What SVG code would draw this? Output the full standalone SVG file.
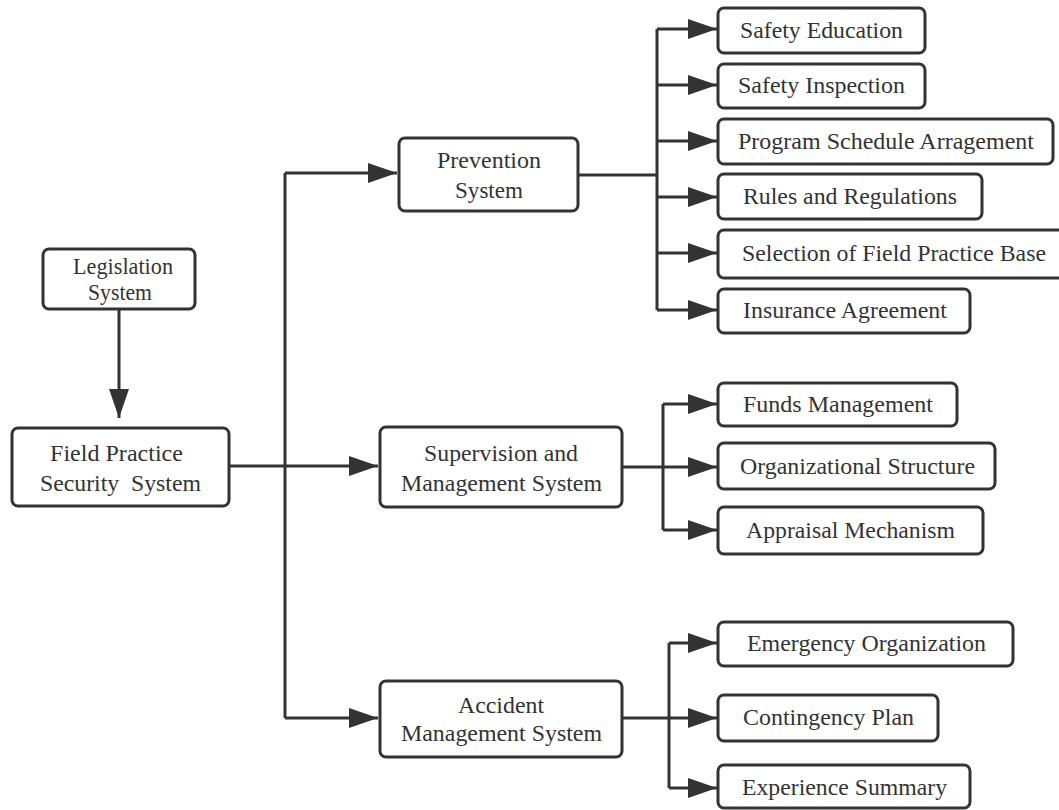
<svg xmlns="http://www.w3.org/2000/svg" width="1059" height="810" viewBox="0 0 1059 810">
<defs>
<style>
.box{fill:#fff;stroke:#333;stroke-width:3}
.t{font-family:"Liberation Serif","Times New Roman",serif;font-size:23px;fill:#333}
.ln{fill:none;stroke:#333;stroke-width:3}
.ar{fill:none;stroke:#333;stroke-width:3;marker-end:url(#ah)}
</style>
<marker id="ah" markerUnits="userSpaceOnUse" markerWidth="29" markerHeight="20" refX="29" refY="10" orient="auto">
<path d="M0,0 L29,10 L0,20 Z" fill="#333"/>
</marker>
</defs>
<rect width="1059" height="810" fill="#fff"/>
<g id="connectors">
<path class="ar" d="M119,309 V418"/>
<path class="ln" d="M229,466 H285 M285,173 V718"/>
<path class="ar" d="M285,173 H397"/>
<path class="ar" d="M285,466 H378"/>
<path class="ar" d="M285,718 H378"/>
<path class="ln" d="M578,175 H657 M657,29 V310"/>
<path class="ar" d="M657,29 H717"/>
<path class="ar" d="M657,85 H717"/>
<path class="ar" d="M657,141 H717"/>
<path class="ar" d="M657,197 H717"/>
<path class="ar" d="M657,253 H717"/>
<path class="ar" d="M657,310 H717"/>
<path class="ln" d="M663,404 V530"/>
<path class="ar" d="M622,467 H717"/>
<path class="ar" d="M663,404 H717"/>
<path class="ar" d="M663,530 H717"/>
<path class="ln" d="M669,643 V788"/>
<path class="ar" d="M622,718 H717"/>
<path class="ar" d="M669,643 H717"/>
<path class="ar" d="M669,788 H717"/>
</g>
<g id="legislation"><rect class="box" x="43" y="249" width="152" height="60" rx="6"/>
<text class="t" x="73" y="274" textLength="100" lengthAdjust="spacingAndGlyphs">Legislation</text>
<text class="t" x="88" y="300" textLength="64" lengthAdjust="spacingAndGlyphs">System</text></g>
<g id="field"><rect class="box" x="12" y="428" width="217" height="78" rx="6"/>
<text class="t" x="50" y="461" textLength="133" lengthAdjust="spacingAndGlyphs">Field Practice</text>
<text class="t" x="40" y="491" textLength="161" lengthAdjust="spacingAndGlyphs" xml:space="preserve">Security  System</text></g>
<g id="prevention"><rect class="box" x="399" y="138" width="179" height="73" rx="6"/>
<text class="t" x="437" y="168" textLength="104" lengthAdjust="spacingAndGlyphs">Prevention</text>
<text class="t" x="455" y="198" textLength="68" lengthAdjust="spacingAndGlyphs">System</text></g>
<g id="supervision"><rect class="box" x="380" y="427" width="242" height="80" rx="6"/>
<text class="t" x="424" y="461" textLength="154" lengthAdjust="spacingAndGlyphs">Supervision and</text>
<text class="t" x="401" y="491" textLength="201" lengthAdjust="spacingAndGlyphs">Management System</text></g>
<g id="accident"><rect class="box" x="380" y="681" width="242" height="76" rx="6"/>
<text class="t" x="458" y="713" textLength="86" lengthAdjust="spacingAndGlyphs">Accident</text>
<text class="t" x="401" y="741" textLength="201" lengthAdjust="spacingAndGlyphs">Management System</text></g>
<g id="safety-education"><rect class="box" x="718" y="8" width="207" height="45" rx="6"/>
<text class="t" x="740" y="38" textLength="163" lengthAdjust="spacingAndGlyphs">Safety Education</text></g>
<g id="safety-inspection"><rect class="box" x="718" y="64" width="207" height="44" rx="6"/>
<text class="t" x="738" y="93" textLength="167" lengthAdjust="spacingAndGlyphs">Safety Inspection</text></g>
<g id="program"><rect class="box" x="718" y="119" width="335" height="45" rx="6"/>
<text class="t" x="738" y="149" textLength="296" lengthAdjust="spacingAndGlyphs">Program Schedule Arragement</text></g>
<g id="rules"><rect class="box" x="718" y="174" width="264" height="45" rx="6"/>
<text class="t" x="743" y="204" textLength="214" lengthAdjust="spacingAndGlyphs">Rules and Regulations</text></g>
<g id="selection"><rect class="box" x="718" y="230" width="352" height="48" rx="6"/>
<text class="t" x="742" y="261" textLength="304" lengthAdjust="spacingAndGlyphs">Selection of Field Practice Base</text></g>
<g id="insurance"><rect class="box" x="718" y="289" width="252" height="44" rx="6"/>
<text class="t" x="743" y="318" textLength="204" lengthAdjust="spacingAndGlyphs">Insurance Agreement</text></g>
<g id="funds"><rect class="box" x="718" y="383" width="239" height="43" rx="6"/>
<text class="t" x="743" y="412" textLength="190" lengthAdjust="spacingAndGlyphs">Funds Management</text></g>
<g id="organizational"><rect class="box" x="718" y="443" width="277" height="46" rx="6"/>
<text class="t" x="740" y="474" textLength="235" lengthAdjust="spacingAndGlyphs">Organizational Structure</text></g>
<g id="appraisal"><rect class="box" x="718" y="507" width="265" height="47" rx="6"/>
<text class="t" x="746" y="538" textLength="209" lengthAdjust="spacingAndGlyphs">Appraisal Mechanism</text></g>
<g id="emergency"><rect class="box" x="718" y="622" width="295" height="44" rx="6"/>
<text class="t" x="747" y="651" textLength="239" lengthAdjust="spacingAndGlyphs">Emergency Organization</text></g>
<g id="contingency"><rect class="box" x="718" y="695" width="220" height="46" rx="6"/>
<text class="t" x="743" y="725" textLength="171" lengthAdjust="spacingAndGlyphs">Contingency Plan</text></g>
<g id="experience"><rect class="box" x="718" y="765" width="252" height="43" rx="6"/>
<text class="t" x="742" y="795" textLength="205" lengthAdjust="spacingAndGlyphs">Experience Summary</text></g>
</svg>
